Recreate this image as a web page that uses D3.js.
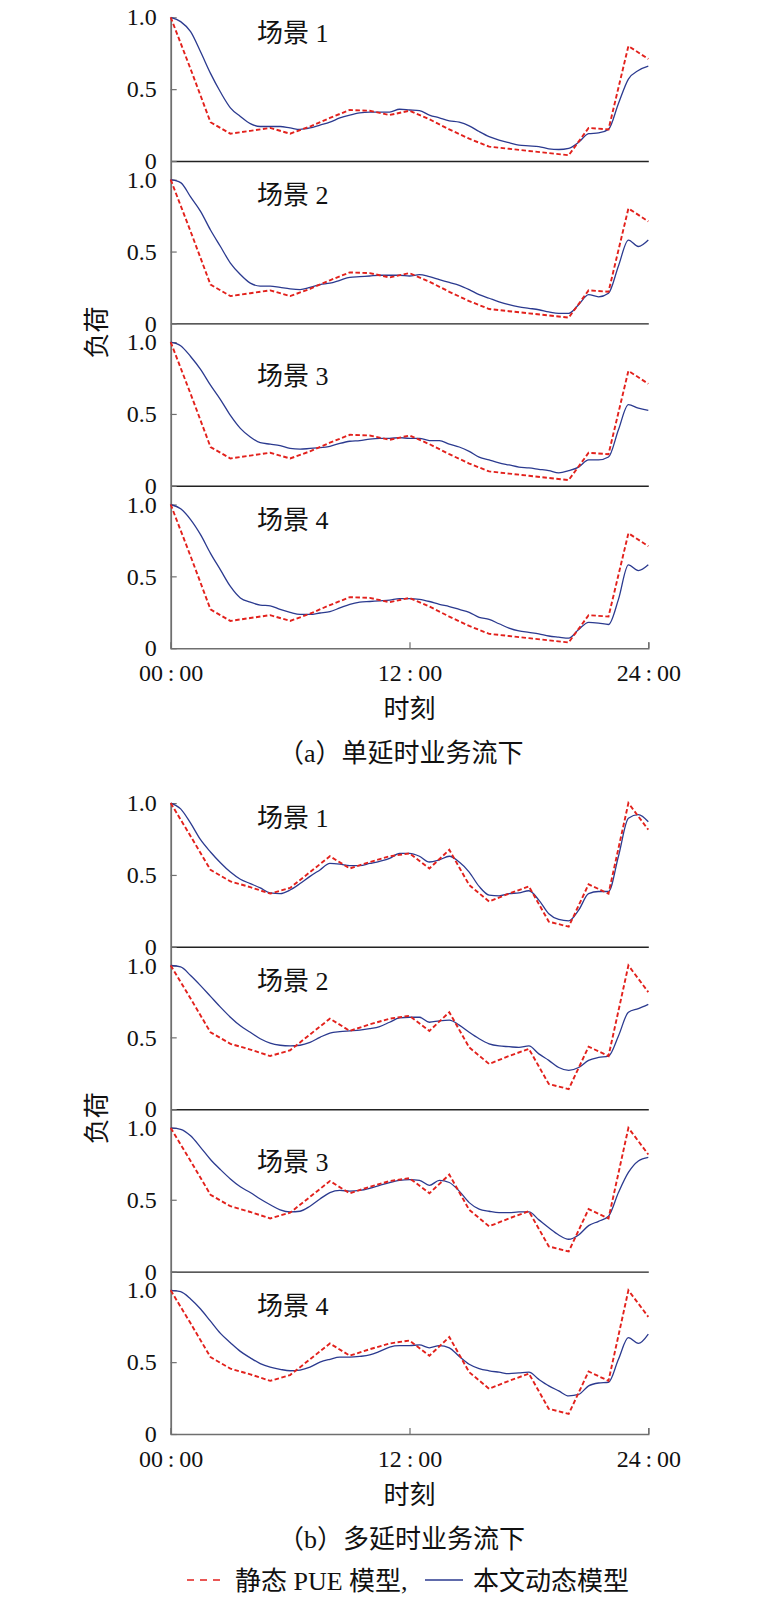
<!DOCTYPE html>
<html>
<head>
<meta charset="utf-8">
<script src="https://cdn.jsdelivr.net/npm/d3@7"></script>
<style>
  body { margin: 0; background: #fff; }
  svg { display: block; }
  text { font-family: "Liberation Serif", "Noto Sans CJK SC", serif; fill: #111; }
</style>
</head>
<body>
<svg width="765" height="1600"></svg>
<script>
// ---- data ----
const hourTimes = [0, 1, 2, 3, 4, 5, 6, 7, 8, 9, 10, 11, 12, 13, 14, 15, 16, 17, 18, 19, 20, 21, 22, 23, 24];
const halfTimes = [0, 0.5, 1, 1.5, 2, 2.5, 3, 3.5, 4, 4.5, 5, 5.5, 6, 6.5, 7, 7.5, 8, 8.5, 9, 9.5,
  10, 10.5, 11, 11.5, 12, 12.5, 13, 13.5, 14, 14.5, 15, 15.5, 16, 16.5, 17, 17.5, 18, 18.5, 19, 19.5,
  20, 20.5, 21, 21.5, 22, 22.5, 23, 23.5, 24];

const xTicks = [0, 12, 24];
const xLabels = ["00\u2009:\u200900", "12\u2009:\u200900", "24\u2009:\u200900"];
const yTicks = [0, 0.5, 1];
const yLabels = ["0", "0.5", "1.0"];
const sceneNames = ["场景 1", "场景 2", "场景 3", "场景 4"];
const captions = ["（a）单延时业务流下", "（b）多延时业务流下"];
const seriesNames = ["静态 PUE 模型,", "本文动态模型"];

// static PUE model (hourly)
const staticA = [1.0, 0.64, 0.27, 0.19, 0.21, 0.23, 0.19, 0.24, 0.30, 0.355, 0.35, 0.32, 0.35,
  0.29, 0.22, 0.155, 0.10, 0.085, 0.07, 0.055, 0.04, 0.23, 0.22, 0.80, 0.71];
const staticB = [1.0, 0.77, 0.535, 0.455, 0.415, 0.37, 0.41, 0.52, 0.63, 0.545, 0.59, 0.63, 0.65,
  0.545, 0.675, 0.43, 0.315, 0.37, 0.42, 0.175, 0.14, 0.435, 0.37, 1.0, 0.815];

// dynamic model (half-hourly)
const dynA1 = [1.0, 0.97, 0.90, 0.76, 0.61, 0.48, 0.37, 0.31, 0.26, 0.24,
  0.24, 0.24, 0.23, 0.22, 0.23, 0.25, 0.27, 0.30, 0.32, 0.335,
  0.34, 0.34, 0.34, 0.36, 0.355, 0.35, 0.32, 0.30, 0.28, 0.27,
  0.245, 0.205, 0.17, 0.146, 0.128, 0.11, 0.105, 0.10, 0.085, 0.08,
  0.088, 0.13, 0.19, 0.195, 0.22, 0.40, 0.57, 0.63, 0.66];
const dynA2 = [1.0, 0.98, 0.88, 0.78, 0.65, 0.535, 0.42, 0.34, 0.28, 0.26,
  0.26, 0.25, 0.24, 0.235, 0.25, 0.27, 0.28, 0.30, 0.32, 0.325,
  0.33, 0.335, 0.335, 0.335, 0.33, 0.34, 0.325, 0.305, 0.285, 0.265,
  0.235, 0.20, 0.175, 0.15, 0.13, 0.115, 0.105, 0.095, 0.08, 0.07,
  0.07, 0.13, 0.20, 0.185, 0.21, 0.40, 0.58, 0.535, 0.58];
const dynA3 = [1.0, 0.975, 0.90, 0.81, 0.70, 0.60, 0.49, 0.40, 0.34, 0.30,
  0.29, 0.28, 0.26, 0.255, 0.26, 0.265, 0.275, 0.295, 0.31, 0.315,
  0.325, 0.33, 0.33, 0.335, 0.33, 0.33, 0.315, 0.315, 0.29, 0.27,
  0.24, 0.20, 0.18, 0.16, 0.145, 0.13, 0.125, 0.115, 0.105, 0.09,
  0.105, 0.13, 0.18, 0.18, 0.20, 0.39, 0.565, 0.54, 0.525];
const dynA4 = [1.0, 0.97, 0.895, 0.79, 0.66, 0.545, 0.43, 0.35, 0.32, 0.30,
  0.295, 0.27, 0.25, 0.235, 0.235, 0.245, 0.255, 0.28, 0.305, 0.32,
  0.325, 0.33, 0.335, 0.345, 0.345, 0.34, 0.325, 0.305, 0.29, 0.27,
  0.25, 0.215, 0.20, 0.17, 0.14, 0.12, 0.11, 0.10, 0.085, 0.077,
  0.07, 0.13, 0.18, 0.175, 0.165, 0.34, 0.58, 0.54, 0.58];
const dynB1 = [1.0, 0.96, 0.86, 0.745, 0.66, 0.585, 0.52, 0.47, 0.44, 0.41,
  0.375, 0.37, 0.395, 0.44, 0.49, 0.535, 0.58, 0.575, 0.565, 0.565,
  0.58, 0.595, 0.615, 0.65, 0.65, 0.63, 0.59, 0.605, 0.63, 0.59,
  0.52, 0.42, 0.36, 0.355, 0.37, 0.375, 0.39, 0.325, 0.23, 0.19,
  0.18, 0.255, 0.37, 0.385, 0.385, 0.63, 0.895, 0.92, 0.87];
const dynB2 = [1.0, 0.99, 0.93, 0.86, 0.785, 0.71, 0.64, 0.58, 0.535, 0.49,
  0.46, 0.445, 0.44, 0.445, 0.465, 0.50, 0.53, 0.54, 0.545, 0.55,
  0.56, 0.575, 0.605, 0.635, 0.64, 0.64, 0.605, 0.615, 0.62, 0.585,
  0.535, 0.49, 0.455, 0.44, 0.435, 0.43, 0.44, 0.385, 0.34, 0.29,
  0.27, 0.29, 0.34, 0.36, 0.37, 0.51, 0.675, 0.70, 0.73];
const dynB3 = [1.0, 0.99, 0.945, 0.865, 0.78, 0.71, 0.645, 0.59, 0.55, 0.505,
  0.465, 0.43, 0.415, 0.42, 0.455, 0.505, 0.55, 0.565, 0.56, 0.565,
  0.58, 0.60, 0.62, 0.635, 0.64, 0.635, 0.60, 0.635, 0.62, 0.56,
  0.48, 0.435, 0.42, 0.41, 0.41, 0.415, 0.415, 0.36, 0.305, 0.255,
  0.225, 0.255, 0.32, 0.35, 0.385, 0.55, 0.69, 0.77, 0.795];
const dynB4 = [1.0, 0.99, 0.94, 0.87, 0.785, 0.70, 0.635, 0.575, 0.53, 0.49,
  0.465, 0.45, 0.44, 0.445, 0.465, 0.50, 0.52, 0.535, 0.535, 0.54,
  0.55, 0.575, 0.605, 0.615, 0.615, 0.62, 0.60, 0.615, 0.60, 0.54,
  0.485, 0.455, 0.44, 0.43, 0.42, 0.425, 0.43, 0.38, 0.335, 0.30,
  0.265, 0.275, 0.335, 0.355, 0.36, 0.52, 0.67, 0.63, 0.695];

// ---- layout ----
const svg = d3.select("svg");
const plotLeft = 170.7, plotRight = 648.3;
const unitH = 143.7;        // pixels for a load of 1.0
const sceneStep = 162.4;    // distance between stacked scenes
const panelZero = [161, 946.8];
const labelLevel = [0.9, 0.9, 0.77, 0.9];
const red = "#e2211c", blue = "#2b3a8f", axisGray = "#6f6f6f";

const xScale = d3.scaleLinear().domain([0, 24]).range([plotLeft, plotRight]);

const panels = [
  { stat: staticA, dyn: [dynA1, dynA2, dynA3, dynA4] },
  { stat: staticB, dyn: [dynB1, dynB2, dynB3, dynB4] }
];

panels.forEach((p, pi) => {
  const base = panelZero[pi];

  p.dyn.forEach((dyn, si) => {
    const zero = base + si * sceneStep;
    const top = si === 0 ? 1 : sceneStep / unitH;
    const yScale = d3.scaleLinear().domain([0, top]).range([zero, zero - top * unitH]);
    const g = svg.append("g");
    const isLast = si === p.dyn.length - 1;

    const xAxis = d3.axisBottom(xScale).tickSizeOuter(0);
    if (isLast) {
      xAxis.tickValues(xTicks).tickSize(-6).tickPadding(16).tickFormat((d, i) => xLabels[i]);
    } else {
      xAxis.tickValues([]);
    }
    const xAxisG = g.append("g")
      .attr("transform", `translate(0,${zero})`)
      .call(xAxis)
      .attr("font-size", 24)
      .attr("font-family", null);
    xAxisG.select(".domain").attr("stroke", isLast ? axisGray : "#222").attr("stroke-width", 1.4);
    xAxisG.selectAll(".tick line").attr("stroke", axisGray).attr("stroke-width", 1.2);
    xAxisG.selectAll(".tick text").attr("fill", "#111");

    const yAxis = d3.axisLeft(yScale)
      .tickValues(yTicks)
      .tickSize(-6)
      .tickSizeOuter(0)
      .tickPadding(14)
      .tickFormat((d, i) => yLabels[i]);
    const yAxisG = g.append("g")
      .attr("transform", `translate(${plotLeft},0)`)
      .call(yAxis)
      .attr("font-size", 24)
      .attr("font-family", null);
    yAxisG.select(".domain").attr("stroke", axisGray).attr("stroke-width", 1.8);
    yAxisG.selectAll(".tick line").attr("stroke", axisGray).attr("stroke-width", 1.2);
    yAxisG.selectAll(".tick text").attr("fill", "#111");

    g.append("text")
      .attr("x", 257)
      .attr("y", yScale(labelLevel[si]) + 10)
      .attr("font-size", 26)
      .text(sceneNames[si]);

    const dynLine = d3.line()
      .x((d, i) => xScale(halfTimes[i]))
      .y(d => yScale(d))
      .curve(d3.curveMonotoneX);
    const statLine = d3.line()
      .x((d, i) => xScale(hourTimes[i]))
      .y(d => yScale(d));

    g.append("path")
      .datum(dyn)
      .attr("d", dynLine)
      .attr("fill", "none")
      .attr("stroke", blue)
      .attr("stroke-width", 1.3);

    g.append("path")
      .datum(p.stat)
      .attr("d", statLine)
      .attr("fill", "none")
      .attr("stroke", red)
      .attr("stroke-width", 1.9)
      .attr("stroke-dasharray", "4.5,2.5");
  });

  // y title
  svg.append("text")
    .attr("transform", `translate(105.5,${base + sceneStep + 9}) rotate(-90)`)
    .attr("text-anchor", "middle")
    .attr("font-size", 26)
    .text("负荷");

  const bottomZero = base + 3 * sceneStep;
  svg.append("text")
    .attr("x", xScale(12))
    .attr("y", bottomZero + 70)
    .attr("text-anchor", "middle")
    .attr("font-size", 26)
    .text("时刻");

  svg.append("text")
    .attr("x", 278)
    .attr("y", bottomZero + 113.5)
    .attr("font-size", 26)
    .text(captions[pi]);
});

// legend
const legendY = 1580;
svg.append("line")
  .attr("x1", 187).attr("x2", 225)
  .attr("y1", legendY).attr("y2", legendY)
  .attr("stroke", red)
  .attr("stroke-width", 1.3)
  .attr("stroke-dasharray", "7,6");
svg.append("text")
  .attr("x", 235).attr("y", legendY + 10)
  .attr("font-size", 26)
  .text(seriesNames[0]);
svg.append("line")
  .attr("x1", 425).attr("x2", 463)
  .attr("y1", legendY).attr("y2", legendY)
  .attr("stroke", blue)
  .attr("stroke-width", 1.3);
svg.append("text")
  .attr("x", 473).attr("y", legendY + 10)
  .attr("font-size", 26)
  .text(seriesNames[1]);
</script>
</body>
</html>
